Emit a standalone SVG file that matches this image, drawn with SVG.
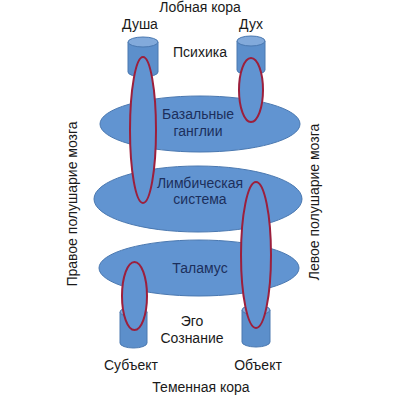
<svg xmlns="http://www.w3.org/2000/svg" width="400" height="400" viewBox="0 0 400 400">
<style>
.blob{fill:#6194d1;stroke:#4a78b0;stroke-width:1}
.cyl{fill:#5c8fcb;stroke:#4a78b0;stroke-width:1}
.cyltop{fill:#82aadb;stroke:#4a78b0;stroke-width:1}
.red{fill:#6194d1;stroke:#9c1f3c;stroke-width:2}
text{font-family:"Liberation Sans",Arial,sans-serif;font-size:14px;text-anchor:middle;fill:#1a1a1a}
.in{fill:#1c2f5c}
</style>
<rect width="400" height="400" fill="#fff"/>
<g id="cyl-dusha"><path class="cyl" d="M128 42 V72 A15 5 0 0 0 158 72 V42 Z"/><ellipse class="cyltop" cx="143" cy="42" rx="15" ry="5"/></g>
<g id="cyl-dukh"><path class="cyl" d="M237 41 V70 A14 5 0 0 0 265 70 V41 Z"/><ellipse class="cyltop" cx="251" cy="41" rx="14" ry="5"/></g>
<g id="cyl-subject"><path class="cyl" d="M120 312 V343 A13.5 5 0 0 0 147 343 V312 Z"/><ellipse class="cyltop" cx="133.5" cy="312" rx="13.5" ry="5"/></g>
<g id="cyl-object"><path class="cyl" d="M242 310 V342 A14 5 0 0 0 270 342 V310 Z"/><ellipse class="cyltop" cx="256" cy="310" rx="14" ry="5"/></g>
<g id="basal"><ellipse class="blob" cx="200" cy="124" rx="100" ry="28"/></g>
<g id="limbic"><ellipse class="blob" cx="198" cy="199" rx="104" ry="33"/></g>
<g id="thalamus"><ellipse class="blob" cx="199" cy="268" rx="100" ry="28"/></g>
<g id="connectors">
<ellipse class="red" cx="143" cy="130" rx="13" ry="73"/>
<ellipse class="red" cx="251" cy="90" rx="12" ry="32"/>
<ellipse class="red" cx="256" cy="255" rx="15" ry="73"/>
<ellipse class="red" cx="134.5" cy="296" rx="12.5" ry="34"/>
</g>
<g id="labels">
<text x="200" y="12">Лобная кора</text>
<text x="140" y="29">Душа</text>
<text x="251" y="29">Дух</text>
<text x="200" y="57">Психика</text>
<text class="in" x="198" y="119">Базальные</text>
<text class="in" x="198" y="136">ганглии</text>
<text class="in" x="200" y="188">Лимбическая</text>
<text class="in" x="200" y="204">система</text>
<text class="in" x="200" y="273">Таламус</text>
<text x="192" y="326">Эго</text>
<text x="192" y="343">Сознание</text>
<text x="131" y="370">Субъект</text>
<text x="258" y="370">Объект</text>
<text x="201" y="392">Теменная кора</text>
<text transform="translate(77 204) rotate(-90)">Правое полушарие мозга</text>
<text transform="translate(319 202) rotate(-90)">Левое полушарие мозга</text>
</g>
</svg>
